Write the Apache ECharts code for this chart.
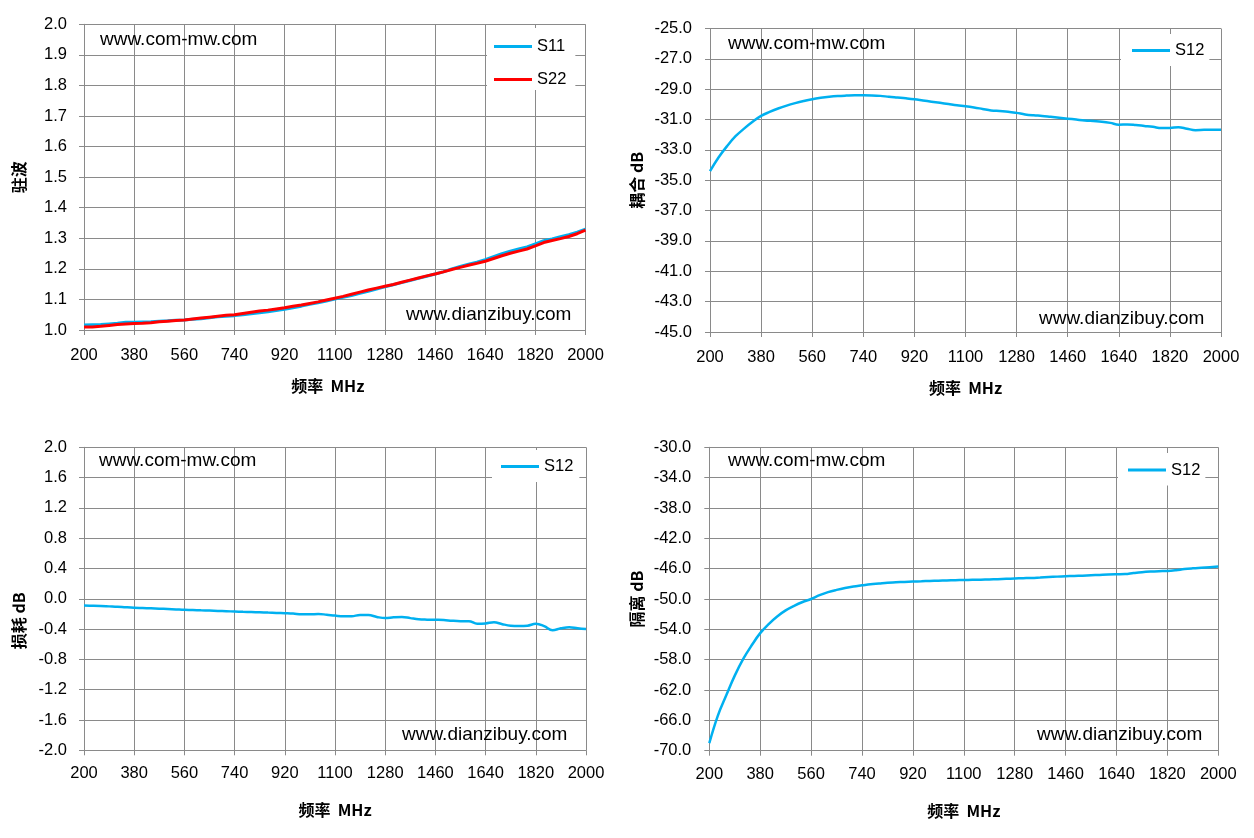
<!DOCTYPE html>
<html><head><meta charset="utf-8">
<script src="https://cdn.jsdelivr.net/npm/echarts@6/dist/echarts.min.js"></script>
<style>html,body{margin:0;padding:0;background:#fff}#c{width:1254px;height:838px}</style>
</head><body><div id="c"></div>
<script>
const freq = [200,230,260,290,320,350,380,410,440,470,
  500,530,560,590,620,650,680,710,740,770,
  800,830,860,890,920,950,980,1010,1040,1070,
  1100,1130,1160,1190,1220,1250,1280,1310,1340,1370,
  1400,1430,1460,1490,1520,1550,1580,1610,1640,1670,
  1700,1730,1760,1790,1820,1850,1880,1910,1940,1970,2000];
const vswrS11 = [1.016,1.017,1.018,1.020,1.022,1.025,1.025,1.026,1.027,1.029,
  1.030,1.032,1.033,1.035,1.037,1.040,1.043,1.045,1.047,1.050,
  1.053,1.056,1.060,1.064,1.068,1.073,1.078,1.084,1.089,1.095,
  1.101,1.107,1.113,1.120,1.127,1.134,1.141,1.148,1.155,1.162,
  1.169,1.176,1.183,1.190,1.200,1.208,1.215,1.222,1.230,1.240,
  1.250,1.258,1.265,1.272,1.282,1.292,1.298,1.305,1.312,1.320,1.330];
const vswrS22 = [1.010,1.010,1.012,1.015,1.018,1.020,1.021,1.022,1.024,1.027,
  1.029,1.031,1.033,1.036,1.039,1.042,1.045,1.048,1.050,1.054,
  1.058,1.062,1.065,1.069,1.073,1.078,1.082,1.087,1.092,1.098,
  1.104,1.110,1.117,1.124,1.131,1.137,1.143,1.149,1.156,1.163,
  1.170,1.177,1.183,1.190,1.198,1.205,1.212,1.218,1.225,1.234,
  1.243,1.251,1.258,1.265,1.275,1.286,1.293,1.299,1.306,1.315,1.327];
const couplingS12 = [-34.4,-33.5,-32.75,-32.1,-31.6,-31.15,-30.76,-30.5,-30.27,-30.08,
  -29.92,-29.78,-29.66,-29.57,-29.5,-29.45,-29.42,-29.4,-29.4,-29.41,
  -29.44,-29.5,-29.55,-29.6,-29.66,-29.74,-29.82,-29.9,-29.98,-30.06,
  -30.12,-30.2,-30.3,-30.4,-30.44,-30.48,-30.56,-30.66,-30.72,-30.76,
  -30.82,-30.88,-30.94,-31.0,-31.06,-31.1,-31.14,-31.22,-31.34,-31.32,
  -31.36,-31.42,-31.48,-31.56,-31.56,-31.5,-31.6,-31.7,-31.68,-31.67,-31.68];
const lossS12 = [-0.09,-0.092,-0.095,-0.1,-0.105,-0.112,-0.118,-0.122,-0.126,-0.13,
  -0.135,-0.14,-0.145,-0.148,-0.152,-0.156,-0.16,-0.164,-0.168,-0.172,
  -0.175,-0.178,-0.182,-0.186,-0.19,-0.195,-0.205,-0.205,-0.2,-0.21,
  -0.222,-0.232,-0.23,-0.215,-0.215,-0.24,-0.255,-0.245,-0.24,-0.255,
  -0.27,-0.275,-0.277,-0.28,-0.29,-0.295,-0.295,-0.33,-0.325,-0.31,
  -0.335,-0.355,-0.36,-0.355,-0.33,-0.36,-0.415,-0.39,-0.375,-0.39,-0.4];
const isolationS12 = [-69.0,-65.4,-62.7,-60.1,-57.9,-56.1,-54.5,-53.3,-52.3,-51.5,
  -50.9,-50.4,-50.0,-49.5,-49.1,-48.8,-48.55,-48.35,-48.2,-48.05,
  -47.95,-47.85,-47.8,-47.75,-47.7,-47.66,-47.62,-47.58,-47.55,-47.52,
  -47.5,-47.47,-47.45,-47.42,-47.38,-47.34,-47.3,-47.26,-47.22,-47.16,
  -47.1,-47.05,-47.0,-46.96,-46.92,-46.87,-46.82,-46.77,-46.74,-46.72,
  -46.58,-46.46,-46.38,-46.33,-46.3,-46.2,-46.06,-45.96,-45.88,-45.8,-45.72];
const xRange = [200, 2000, 180];
const yRanges = [[1.0, 2.0, 0.1], [-45, -25, 2], [-2.0, 2.0, 0.4], [-70, -30, 4]];
const yNames = ['驻波', '耦合 dB', '损耗 dB', '隔离 dB'];
const xName = '频率  MHz';
const watermarkTop = 'www.com-mw.com';
const watermarkBottom = 'www.dianzibuy.com';

const GRAY = '#8a8a8a';
const FONT = '"Liberation Sans", Arial, sans-serif';
const BLUE = '#00B0F0';
const RED = '#FF0000';
function pairs(ys){ return freq.map((f,i)=>[f, ys[i]]); }

const grids = [
  {left:84, top:24.3, width:501.5, height:305.7},
  {left:710, top:28.5, width:511, height:303.5},
  {left:84, top:447.3, width:502, height:303},
  {left:709.3, top:447.3, width:509, height:303.4}
];
const xGaps = [[48,17],[48,17],[52,15],[52,15]];
const yGaps = [[57,17],[65,18],[57,17],[64,18]];
const yNamePad = [[0,0,0,0],[0,0,0,0],[0,44,0,0],[0,0,0,0]];
const xNamePad = [[0,14,0,0],[0,0,0,0],[0,0,0,0],[0,0,0,0]];

const xAxes = grids.map((g,i)=>({
  type:'value', gridIndex:i, min:xRange[0], max:xRange[1], interval:xRange[2],
  name:xName, nameLocation:'middle', nameGap:xGaps[i][0],
  nameTextStyle:{fontFamily:'"Noto Sans CJK SC"', fontWeight:'bold', fontSize:16, color:'#000', padding:xNamePad[i]},
  axisLine:{show:true, onZero:false, lineStyle:{color:GRAY, width:1}},
  axisTick:{show:true, length:5, lineStyle:{color:GRAY}},
  axisLabel:{margin:xGaps[i][1], color:'#000', fontFamily:FONT, fontSize:16.5, formatter:v=>String(v)},
  splitLine:{show:true, lineStyle:{color:GRAY, width:1}}
}));
const yAxes = grids.map((g,i)=>({
  type:'value', gridIndex:i, min:yRanges[i][0], max:yRanges[i][1], interval:yRanges[i][2],
  name:yNames[i], nameLocation:'middle', nameGap:yGaps[i][0], nameRotate:90,
  nameTextStyle:{fontFamily:'"Noto Sans CJK SC"', fontWeight:'bold', fontSize:16, color:'#000', padding:yNamePad[i]},
  axisLine:{show:true, onZero:false, lineStyle:{color:GRAY, width:1}},
  axisTick:{show:true, length:5, lineStyle:{color:GRAY}},
  axisLabel:{margin:yGaps[i][1], color:'#000', fontFamily:FONT, fontSize:16.5,
    formatter:v=>Number(v).toFixed(1)},
  splitLine:{show:true, lineStyle:{color:GRAY, width:1}}
}));

function line(name, data, idx, color, width, smooth){
  return {type:'line', name, data:pairs(data), xAxisIndex:idx, yAxisIndex:idx,
    showSymbol:false, symbol:'none', smooth:smooth, lineStyle:{color, width}, itemStyle:{color},
    animation:false};
}
const series = [
  line('S11', vswrS11, 0, BLUE, 3, false),
  line('S22', vswrS22, 0, RED, 3, false),
  line('S12', couplingS12, 1, BLUE, 2.5, 0.4),
  line('S12', lossS12, 2, BLUE, 2.5, 0.4),
  line('S12', isolationS12, 3, BLUE, 2.5, 0.4)
];

function legend(data, left, top, padding, gap){
  return {data, left, top, orient:'vertical', padding, itemGap:gap,
    backgroundColor:'#fff', icon:'rect', itemWidth:38, itemHeight:3,
    textStyle:{fontFamily:FONT, fontSize:16.5, color:'#000'}, selectedMode:false};
}
const legends = [
  legend(['S11','S22'], 487, 28, [10,9,2,7], 16),
  legend(['S12'], 1121, 34, [8,5,7,11], 10),
  legend(['S12'], 492, 450, [8,6,7,9], 10),
  legend(['S12'], 1118, 453, [8.5,5,7,10], 10)
];

function wm(text, x, y){
  return {type:'text', x, y, z:10, style:{text, fill:'#000', font:'19px "Liberation Sans", Arial, sans-serif', verticalAlign:'middle'}};
}
const graphics = [
  wm(watermarkTop, 100, 40), wm(watermarkBottom, 406, 315),
  wm(watermarkTop, 728, 43.5), wm(watermarkBottom, 1039, 318.5),
  wm(watermarkTop, 99, 461), wm(watermarkBottom, 402, 734.5),
  wm(watermarkTop, 728, 461), wm(watermarkBottom, 1037, 734.5)
];

const chart = echarts.init(document.getElementById('c'));
chart.setOption({
  backgroundColor:'#fff', animation:false,
  grid:grids, xAxis:xAxes, yAxis:yAxes, series, legend:legends, graphic:graphics
});
</script></body></html>
